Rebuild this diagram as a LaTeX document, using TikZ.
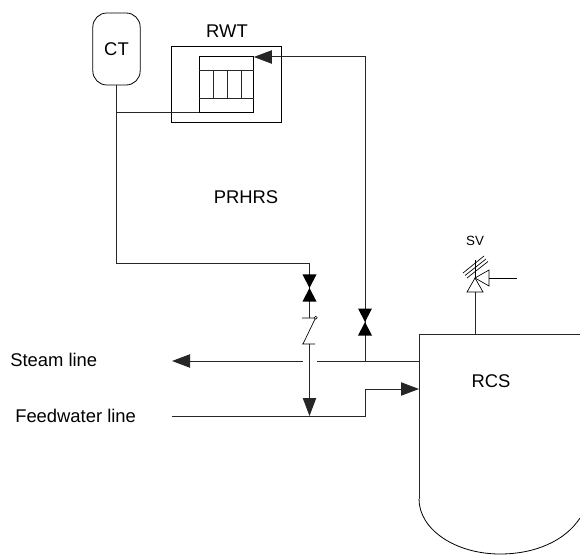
\documentclass[tikz,border=0pt]{standalone}
\usepackage{fontspec}
\setmainfont{Liberation Sans}
\usetikzlibrary{arrows.meta}
\tikzset{
pipe/.style={draw=black!85, line width=0.75pt},
flow/.style={pipe, -{Triangle[length=13.5pt,width=10pt]}},
tag/.style={font=\fontsize{13.8pt}{15pt}\selectfont, inner sep=0pt},
thin pipe/.style={line width=0.5pt},
}
\newcommand{\valve}[2]{%
\fill[black] (#1-7,#2-13.5) -- (#1+7,#2-13.5) -- (#1,#2) -- (#1+7,#2+13.5) -- (#1-7,#2+13.5) -- (#1,#2) -- cycle;
}
\begin{document}
\begin{tikzpicture}[x=0.75pt,y=-0.75pt]
\useasboundingbox (0,0) rectangle (580,555);
% tanks
\node[draw=black, line width=0.6pt, rounded corners=10.5pt, minimum width=35.5pt, minimum height=54pt, outer sep=0pt, tag] (CT) at (116.5,49) {CT};
\coordinate (joint) at (116.5,113);
\coordinate (bend) at (116.5,264);
\coordinate (valvetop) at (309.5,264);
\coordinate (checktop) at (309.5,318);
\coordinate (checkbot) at (309.5,344);
\coordinate (feedtee) at (309.5,416);
\node[draw=black, line width=0.6pt, minimum width=82.5pt, minimum height=57.5pt, inner sep=0pt] (RWT) at (226.75,84.5) {};
\node[tag] (RWTlabel) at (227,31) {RWT};
\node[draw=black, line width=0.75pt, minimum width=41pt, minimum height=42pt, inner sep=0pt, outer sep=0pt] (bundle) at (226.5,85) {};
\draw[pipe] (199,71) -- (254,71) (199,99) -- (254,99);
\foreach \x in {213,227,241} \draw[pipe] (\x,71) -- (\x,99);
% PRHRS loop
\draw[pipe] (CT.south) -- (joint) -- (bend) -- (valvetop) -- (checktop);
\draw[pipe] (joint) -- (bundle.south west);
\coordinate (tee) at (365,361);
\coordinate (feedbend) at (365,416);
\coordinate (feedup) at (365,389);
\draw[flow] (tee) -- (365,57) -- (bundle.north east);
\valve{309.5}{288}
\valve{365}{322}
\node[tag] (PRHRS) at (246,197) {PRHRS};
% check valve
\draw[thin pipe] (302,318) -- (315,318) (302,344) -- (315,344) (315,319) -- (303,344);
\draw[line width=0.4pt, fill=white] (315.7,317.7) circle (1.5);
\draw[flow] (checkbot) -- (feedtee);
% vessel
\coordinate (RCStop) at (580,334);
\coordinate (RCSleft) at (419,334);
\coordinate (RCSfeed) at (419,389);
\coordinate (RCSsteam) at (419,361);
\draw[pipe] (RCStop) -- (RCSleft) -- (419,499);
\draw[line width=0.6pt] (419,499) .. controls (419,529.4) and (455.3,554) .. (500,554) .. controls (535,554) and (565,541) .. (580,518);
\node[tag] (RCS) at (491,381) {RCS};
% lines
\coordinate (steamend) at (172,361);
\coordinate (feedend) at (172,416);
\draw[flow] (303,361) -- (steamend);
\draw[pipe] (317,361) -- (RCSsteam);
\draw[pipe] (feedend) -- (feedbend) -- (feedup);
\draw[flow] (feedup) -- (RCSfeed);
\node[tag, anchor=west] (steam) at (10,360) {Steam line};
\node[tag, anchor=west] (feed) at (15,416) {Feedwater line};
% safety valve
\node[font=\fontsize{10pt}{12pt}\selectfont, inner sep=0pt] (SV) at (475,241) {SV};
\coordinate (svseat) at (475,278);
\coordinate (svbase) at (475,292);
\draw[pipe] (475,334) -- (svbase);
\draw[thin pipe] (467,292) -- (483,292) -- (svseat) -- cycle;
\draw[thin pipe] (svseat) -- (489,270) -- (489,286) -- cycle;
\draw[thin pipe] (489,278) -- (517,278);
\draw[thin pipe] (svseat) -- (475,260);
\draw[thin pipe] (463,273) -- (484,256) (465,275.5) -- (486,259) (467,278) -- (488,261.5);
\end{tikzpicture}
\end{document}
